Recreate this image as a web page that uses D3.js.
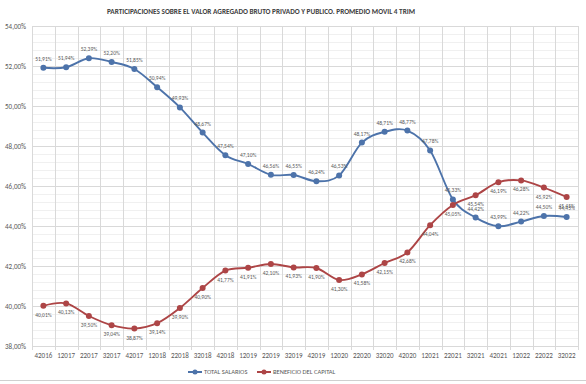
<!DOCTYPE html>
<html lang="es">
<head>
<meta charset="UTF-8">
<script src="https://cdnjs.cloudflare.com/ajax/libs/d3/7.8.5/d3.min.js"></script>
<title>Participaciones sobre el VAB</title>
<style>
  body { margin: 0; background: #fff; }
  svg { display: block; font-family: Carlito, "Liberation Sans", "DejaVu Sans", sans-serif; }
  .tick-label { fill: #595959; font-size: 7px; }
  .val-label { fill: #595959; font-size: 5.5px; }
  .title { fill: #404040; font-size: 7px; font-weight: bold; }
  .legend-text { fill: #595959; font-size: 6.5px; }
</style>
</head>
<body>
<script>
  const quarters = ['42016','12017','22017','32017','42017','12018','22018','32018','42018',
    '12019','22019','32019','42019','12020','22020','32020','42020','12021','22021','32021',
    '42021','12022','22022','32022'];

  const salarios = [51.91, 51.94, 52.39, 52.20, 51.85, 50.94, 49.93, 48.67, 47.54, 47.10,
    46.56, 46.55, 46.24, 46.53, 48.17, 48.71, 48.77, 47.78, 45.33, 44.42, 43.99, 44.22, 44.50, 44.45];

  const beneficio = [40.01, 40.13, 39.50, 39.04, 38.87, 39.14, 39.90, 40.90, 41.77, 41.91,
    42.10, 41.93, 41.90, 41.30, 41.58, 42.15, 42.68, 44.04, 45.05, 45.54, 46.19, 46.28, 45.92, 45.45];

  const yTicks = [38, 40, 42, 44, 46, 48, 50, 52, 54];

  const series = [
    { name: 'TOTAL SALARIOS', values: salarios, color: '#4d73aa', labelDy: -7 },
    { name: 'BENEFICIO DEL CAPITAL', values: beneficio, color: '#ad4546', labelDy: 11 }
  ];

  const width = 586, height = 384;
  const plotLeft = 32, plotRight = 578, plotTop = 26, plotBottom = 346;

  const fmt = v => d3.format('.2f')(v).replace('.', ',') + '%';

  const svg = d3.select('body').append('svg')
    .attr('width', width).attr('height', height);

  svg.append('rect').attr('width', width).attr('height', height).attr('fill', '#fff');
  svg.append('line')
    .attr('x1', 0).attr('x2', width).attr('y1', 380.5).attr('y2', 380.5)
    .attr('stroke', '#d0d0d0');

  const x = d3.scaleBand().domain(quarters).range([plotLeft, plotRight]);
  const y = d3.scaleLinear().domain([38, 54]).range([plotBottom, plotTop]);

  // rejilla secundaria
  const minor = d3.range(38, 54, 0.4).filter(v => Math.abs(v / 2 - Math.round(v / 2)) > 0.01);
  svg.append('g').selectAll('line').data(minor).join('line')
    .attr('x1', plotLeft).attr('x2', plotRight)
    .attr('y1', d => Math.round(y(d)) + 0.5).attr('y2', d => Math.round(y(d)) + 0.5)
    .attr('stroke', '#f0f0f0');

  // rejilla principal
  svg.append('g').selectAll('line').data(yTicks).join('line')
    .attr('x1', plotLeft).attr('x2', plotRight)
    .attr('y1', d => Math.round(y(d)) + 0.5).attr('y2', d => Math.round(y(d)) + 0.5)
    .attr('stroke', '#d9d9d9');

  const bounds = quarters.map(q => x(q)).concat([plotRight]);
  svg.append('g').selectAll('line').data(bounds).join('line')
    .attr('x1', d => Math.round(d) + 0.5).attr('x2', d => Math.round(d) + 0.5)
    .attr('y1', plotTop).attr('y2', plotBottom + 4)
    .attr('stroke', '#d9d9d9');

  // ejes
  svg.append('g').selectAll('text').data(yTicks).join('text')
    .attr('class', 'tick-label')
    .attr('x', 26).attr('y', d => y(d) + 2.5)
    .attr('text-anchor', 'end')
    .text(d => d3.format('.2f')(d).replace('.', ',') + '%');

  svg.append('g').selectAll('text').data(quarters).join('text')
    .attr('class', 'tick-label')
    .attr('x', d => x(d) + x.bandwidth() / 2).attr('y', 358)
    .attr('text-anchor', 'middle')
    .text(d => d);

  // título
  svg.append('text').attr('class', 'title')
    .attr('x', 261).attr('y', 14).attr('text-anchor', 'middle')
    .attr('textLength', 308).attr('lengthAdjust', 'spacingAndGlyphs')
    .text('PARTICIPACIONES SOBRE EL VALOR AGREGADO BRUTO PRIVADO Y PUBLICO. PROMEDIO MOVIL 4 TRIM');

  const line = d3.line()
    .x((d, i) => x(quarters[i]) + x.bandwidth() / 2)
    .y(d => y(d))
    .curve(d3.curveCardinal.tension(0));

  series.forEach(s => {
    const g = svg.append('g');
    g.append('path').attr('d', line(s.values))
      .attr('fill', 'none').attr('stroke', s.color).attr('stroke-width', 1.9);
    g.selectAll('circle').data(s.values).join('circle')
      .attr('cx', (d, i) => x(quarters[i]) + x.bandwidth() / 2)
      .attr('cy', d => y(d)).attr('r', 3)
      .attr('fill', s.color);
    g.selectAll('text').data(s.values).join('text')
      .attr('class', 'val-label')
      .attr('x', (d, i) => x(quarters[i]) + x.bandwidth() / 2)
      .attr('y', d => y(d) + s.labelDy)
      .attr('text-anchor', 'middle')
      .text(d => fmt(d));
  });

  // leyenda
  const legend = svg.append('g').attr('transform', 'translate(0,372)');
  const legendItems = [{ s: series[0], x: 188 }, { s: series[1], x: 257 }];
  legendItems.forEach(it => {
    legend.append('line').attr('x1', it.x).attr('x2', it.x + 14)
      .attr('y1', 0).attr('y2', 0).attr('stroke', it.s.color).attr('stroke-width', 2);
    legend.append('circle').attr('cx', it.x + 7).attr('cy', 0).attr('r', 2.5).attr('fill', it.s.color);
    legend.append('text').attr('class', 'legend-text')
      .attr('x', it.x + 16).attr('y', 2.3).text(it.s.name);
  });
</script>
</body>
</html>
